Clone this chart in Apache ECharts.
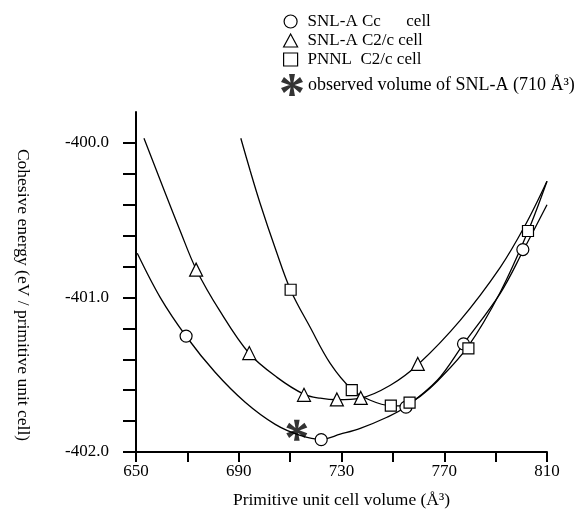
<!DOCTYPE html>
<html><head><meta charset="utf-8">
<script src="https://cdn.jsdelivr.net/npm/echarts@6/dist/echarts.min.js"></script>
<style>html,body{margin:0;padding:0;background:#fff}#c{width:581px;height:527px}</style>
</head><body><div id="c"></div>
<script>
// ---- data ----
const ccPoints   = [[669.5,-401.25],[722.1,-401.92],[755.1,-401.71],[777.5,-401.30],[800.6,-400.69]];
const c2cPoints  = [[673.4,-400.82],[694.1,-401.36],[715.4,-401.63],[728.2,-401.66],[737.5,-401.65],[759.7,-401.43]];
const pnnlPoints = [[710.2,-400.95],[734.0,-401.60],[749.2,-401.70],[756.5,-401.68],[779.4,-401.33],[802.6,-400.57]];
const observedPoint = [[712.6,-401.86]];

const ccCurve = [[650.5,-400.714],[659.4,-400.999],[669.5,-401.251],[680.8,-401.484],[692.5,-401.678],[704.2,-401.821],[713.9,-401.892],[722.1,-401.918],[729.5,-401.885],[737.3,-401.847],[747.7,-401.775],[754.8,-401.711],[767.3,-401.536],[777.4,-401.303],[791.8,-400.973],[800.8,-400.695],[810,-400.40]];
const c2cCurve = [[653.1,-399.970],[660.5,-400.287],[667.1,-400.565],[673.4,-400.817],[682.7,-401.089],[694.0,-401.361],[704.9,-401.517],[715.5,-401.627],[721.7,-401.652],[728.3,-401.662],[737.3,-401.652],[749.0,-401.568],[759.9,-401.432],[776.2,-401.148],[791.8,-400.805],[801.5,-400.533],[810,-400.248]];
const pnnlCurve = [[690.8,-399.970],[694.4,-400.177],[698.3,-400.390],[704.2,-400.682],[710.2,-400.953],[717.8,-401.193],[725.6,-401.426],[734.0,-401.594],[741.2,-401.665],[749.2,-401.701],[752.9,-401.702],[756.5,-401.680],[760.6,-401.640],[767.3,-401.542],[779.3,-401.316],[791.8,-400.966],[802.6,-400.572],[810,-400.248]];

const xTickValues  = [650,670,690,710,730,750,770,790,810];
const xLabelValues = [650,690,730,770,810];
const yTickValues  = [-402,-401.8,-401.6,-401.4,-401.2,-401,-400.8,-400.6,-400.4,-400.2,-400];
const yLabelValues = [-402,-401,-400];

const seriesNames = ['SNL-A Cc      cell','SNL-A C2/c cell','PNNL  C2/c cell','observed volume of SNL-A (710 Å³)'];
const xName = 'Primitive unit cell volume (Å³)';
const yName = 'Cohesive energy (eV / primitive unit cell)';

// ---- styling ----
const FONT = 'Liberation Serif';
function asteriskPath(){
  let s = '';
  const L = 10, w0 = 0.9, w1 = 2.7;
  for (let k = 0; k < 6; k++) {
    const a = Math.PI/2 + k*Math.PI/3;
    const dx = Math.cos(a), dy = Math.sin(a), px = -dy, py = dx;
    const pts = [[px*w0, py*w0],[dx*L+px*w1, dy*L+py*w1],[dx*L-px*w1, dy*L-py*w1],[-px*w0,-py*w0]];
    s += 'M' + pts.map(p => p[0].toFixed(2)+','+p[1].toFixed(2)).join('L') + 'Z';
  }
  return 'path://' + s;
}
const AST = asteriskPath();

const chart = echarts.init(document.getElementById('c'), null, {renderer:'canvas'});
const lineStyle = {color:'#000', width:1.3};
const curve = d => ({type:'line', data:d, smooth:0.35, showSymbol:false, symbol:'none', lineStyle, silent:true, z:2});
const mark = (name, d, sym, size) => ({type:'scatter', name, data:d, symbol:sym, symbolSize:size,
  itemStyle:{color:'#fff', borderColor:'#000', borderWidth:1.2, opacity:1}, z:4});

chart.setOption({
  animation:false,
  backgroundColor:'#fff',
  grid:{left:136, right:34, top:112, bottom:75},
  legend:[{
    orient:'vertical', left:278, top:8, itemWidth:14, itemHeight:13, itemGap:2,
    textStyle:{fontFamily:FONT, fontSize:17, color:'#000', padding:[0,0,0,5]},
    data:[
      {name:seriesNames[0], icon:'circle', itemStyle:{color:'#fff', borderColor:'#000', borderWidth:1.2}},
      {name:seriesNames[1], icon:'triangle', itemStyle:{color:'#fff', borderColor:'#000', borderWidth:1.2}},
      {name:seriesNames[2], icon:'rect', itemStyle:{color:'#fff', borderColor:'#000', borderWidth:1.2}}
    ], selectedMode:false
  },{
    orient:'vertical', left:276, top:69, itemWidth:22, itemHeight:22,
    textStyle:{fontFamily:FONT, fontSize:18, color:'#000', padding:[0,0,0,0]},
    data:[{name:seriesNames[3], icon:AST, itemStyle:{color:'#000', borderWidth:0}}], selectedMode:false
  }],
  xAxis:{type:'value', min:650, max:810, interval:20,
    name:xName, nameLocation:'middle', nameGap:39,
    nameTextStyle:{fontFamily:FONT, fontSize:17.5, color:'#000'},
    axisLine:{lineStyle:{color:'#000', width:2}},
    axisTick:{show:true, length:10, lineStyle:{color:'#000', width:2}, customValues:xTickValues},
    axisLabel:{fontFamily:FONT, fontSize:17, color:'#000', margin:11, customValues:xLabelValues},
    splitLine:{show:false}},
  yAxis:{type:'value', min:-402, max:-399.8, interval:0.2,
    name:yName, nameLocation:'middle', nameRotate:-90, nameGap:104,
    nameTextStyle:{fontFamily:FONT, fontSize:17.5, color:'#000', padding:[0,0,0,26]},
    axisLine:{lineStyle:{color:'#000', width:2}},
    axisTick:{show:true, length:13, lineStyle:{color:'#000', width:2}, customValues:yTickValues},
    axisLabel:{fontFamily:FONT, fontSize:17, color:'#000', margin:27, customValues:yLabelValues,
      formatter:v => Number(v).toFixed(1)},
    splitLine:{show:false}},
  series:[
    curve(ccCurve), curve(c2cCurve), curve(pnnlCurve),
    mark(seriesNames[0], ccPoints, 'circle', 12),
    mark(seriesNames[1], c2cPoints, 'triangle', 13),
    mark(seriesNames[2], pnnlPoints, 'rect', 11),
    {type:'scatter', name:seriesNames[3], data:observedPoint, symbol:AST, symbolSize:21,
      itemStyle:{color:'#000'}, z:5}
  ]
});
</script></body></html>
